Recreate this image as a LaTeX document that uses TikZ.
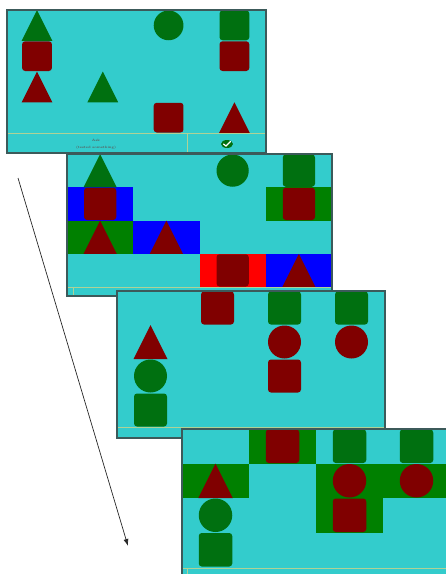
\documentclass[tikz,border=0pt]{standalone}
\usetikzlibrary{arrows.meta}
\definecolor{cyanbg}{RGB}{51,204,204}
\definecolor{shgreen}{RGB}{0,112,16}
\definecolor{cellgreen}{RGB}{0,128,0}
\definecolor{shred}{RGB}{128,0,0}
\definecolor{framecol}{RGB}{60,90,90}
\definecolor{barline}{RGB}{175,210,150}
\def\sx{0}
\newcommand\cellbg[3]{\fill[#3] ({\px+#1*\cw},{\py+#2*\ch}) rectangle ++(\cw,\ch);}
\newcommand\shSq[3]{\fill[#3,rounded corners=3pt] ({\sx+\px+(#1+0.5)*\cw-\ch/2+0.5},{\py+#2*\ch+0.5}) rectangle ++({\ch-1},{\ch-1});}
\newcommand\shCi[3]{\fill[#3] ({\sx+\px+(#1+0.5)*\cw},{\py+(#2+0.5)*\ch}) circle[radius={\ch/2-0.5}];}
\newcommand\shTri[3]{\fill[#3] ({\sx+\px+(#1+0.5)*\cw-\ch/2},{\py+(#2+1)*\ch}) -- ({\sx+\px+(#1+0.5)*\cw+\ch/2},{\py+(#2+1)*\ch}) -- ({\sx+\px+(#1+0.5)*\cw},{\py+#2*\ch}) -- cycle;}
\newcommand\panelbg{\fill[cyanbg] (\px,\py) rectangle ({\px+\pw},\pb);}
\newcommand\panelbar{\draw[barline,line width=0.6pt] (\px,\pbar) -- ({\px+\pw},\pbar);}
\newcommand\panelframe{\draw[framecol,line width=1.4pt] (\px,\py) rectangle ({\px+\pw},\pb);}
\begin{document}
\begin{tikzpicture}[x=1pt,y=-1pt]
\useasboundingbox (0,0) rectangle (446,574);
% arrow
\coordinate (arrS) at (18,178);
\coordinate (arrE) at (128,546);
\draw[black!85,line width=0.7pt,-{Latex[length=7pt,width=5pt]}] (arrS) -- (arrE);
% panel 1
\def\px{7}\def\py{10}\def\cw{65.8}\def\ch{30.75}\def\pb{153}\def\pbar{133}\def\sx{-2.9}\def\pw{259}
\panelbg
\shTri{0}{0}{shgreen}\shCi{2}{0}{shgreen}\shSq{3}{0}{shgreen}
\shSq{0}{1}{shred}\shSq{3}{1}{shred}
\shTri{0}{2}{shred}\shTri{1}{2}{shgreen}
\shSq{2}{3}{shred}\shTri{3}{3}{shred}
\panelbar
\draw[barline,line width=0.6pt] (187,\pbar) -- (187,\pb);
\node[inner sep=0pt,font=\fontsize{3.2}{4}\selectfont\bfseries,text=black!65] (askA) at (96,140) {Ask};
\node[inner sep=0pt,font=\fontsize{3.2}{4}\selectfont\bfseries,text=black!65] (askB) at (96,148) {(tested something)};
\fill[shgreen] (227,144) ellipse[x radius=6,y radius=4];
\draw[white,line width=1.2pt,line cap=round] (223.5,144) -- (226,146) -- (230.5,141.5);
\panelframe
\def\sx{0}
% panel 2
\def\px{67}\def\py{154}\def\cw{66.25}\def\ch{33.25}\def\pb{296}\def\pbar{287}\def\pw{265}
\panelbg
\cellbg{0}{1}{blue}\cellbg{3}{1}{cellgreen}
\cellbg{0}{2}{cellgreen}\cellbg{1}{2}{blue}
\cellbg{2}{3}{red}\cellbg{3}{3}{blue}
\shTri{0}{0}{shgreen}\shCi{2}{0}{shgreen}\shSq{3}{0}{shgreen}
\shSq{0}{1}{shred}\shSq{3}{1}{shred}
\shTri{0}{2}{shred}\shTri{1}{2}{shred}
\shSq{2}{3}{shred}\shTri{3}{3}{shred}
\panelbar
\draw[barline,line width=0.6pt] (73,\pbar) -- (73,\pb);
\panelframe
% panel 3
\def\px{117}\def\py{291}\def\cw{67}\def\ch{34}\def\pb{438}\def\pbar{427}\def\pw{268}
\panelbg
\shSq{1}{0}{shred}\shSq{2}{0}{shgreen}\shSq{3}{0}{shgreen}
\shTri{0}{1}{shred}\shCi{2}{1}{shred}\shCi{3}{1}{shred}
\shCi{0}{2}{shgreen}\shSq{2}{2}{shred}
\shSq{0}{3}{shgreen}
\panelbar
\panelframe
% panel 4
\def\px{182}\def\py{429}\def\cw{67}\def\ch{34.5}\def\pb{600}\def\pbar{568}\def\pw{268}
\panelbg
\cellbg{1}{0}{cellgreen}
\cellbg{0}{1}{cellgreen}\cellbg{2}{1}{cellgreen}\cellbg{3}{1}{cellgreen}
\cellbg{2}{2}{cellgreen}
\shSq{1}{0}{shred}\shSq{2}{0}{shgreen}\shSq{3}{0}{shgreen}
\shTri{0}{1}{shred}\shCi{2}{1}{shred}\shCi{3}{1}{shred}
\shCi{0}{2}{shgreen}\shSq{2}{2}{shred}
\shSq{0}{3}{shgreen}
\panelbar
\draw[barline,line width=0.6pt] (187,\pbar) -- (187,\pb);
\panelframe
\end{tikzpicture}
\end{document}
